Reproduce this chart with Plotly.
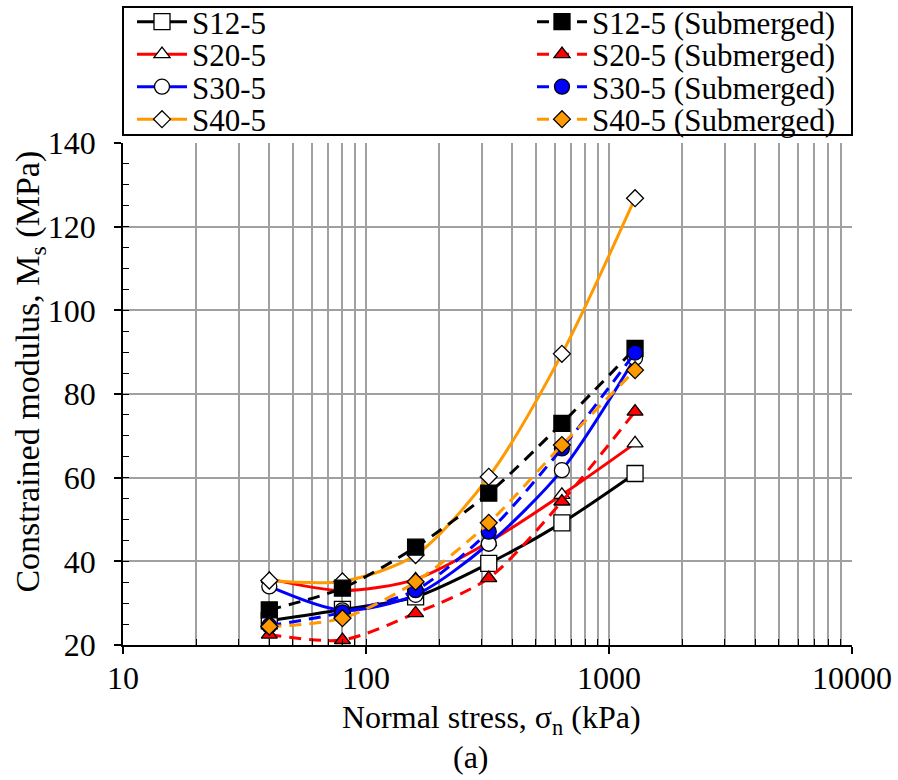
import plotly.graph_objects as go

# Normal stress levels (kPa)
stress = [40, 80, 160, 320, 640, 1280]

# Constrained modulus (MPa), dry specimens
s12 = [25.8, 28.5, 31.5, 39.5, 49.2, 61.0]
s20 = [35.8, 33.0, 35.7, 44.6, 55.9, 68.2]
s30 = [34.0, 28.3, 32.0, 44.2, 61.8, 88.6]
s40 = [35.4, 35.2, 41.5, 60.2, 89.6, 126.8]

# Constrained modulus (MPa), submerged specimens
s12_sub = [28.4, 33.6, 43.4, 56.3, 73.0, 90.9]
s20_sub = [22.5, 21.2, 27.6, 36.0, 54.3, 75.8]
s30_sub = [24.6, 27.8, 33.1, 47.1, 67.0, 89.9]
s40_sub = [24.4, 26.4, 35.1, 49.2, 67.8, 85.7]

x_major = [10, 100, 1000, 10000]
x_labels = ["10", "100", "1000", "10000"]
x_minor = [m * d for d in (10, 100, 1000) for m in range(2, 10)]
x_all = sorted(x_major + x_minor)

FONT = "Liberation Serif, Times New Roman, serif"
ORANGE = "#ff9900"
GRID = "#a0a0a0"

# plot area in pixels (used to place the legend entries)
PLOT_L, PLOT_W, PLOT_B, PLOT_H = 123, 729, 645, 502
LEG_COLS = [132, 532]               # left edge of each legend column (px)
LEG_ROWS = [22, 54.5, 87, 119.5]    # centre of each legend row (px)

series = [
    # name, values, colour, symbol, filled, dashed, (row, column)
    ("S12-5", s12, "black", "square", False, False, (0, 0)),
    ("S20-5", s20, "red", "triangle-up", False, False, (1, 0)),
    ("S30-5", s30, "blue", "circle", False, False, (2, 0)),
    ("S40-5", s40, ORANGE, "diamond", False, False, (3, 0)),
    ("S12-5 (Submerged)", s12_sub, "black", "square", True, True, (0, 1)),
    ("S20-5 (Submerged)", s20_sub, "red", "triangle-up", True, True, (1, 1)),
    ("S30-5 (Submerged)", s30_sub, "blue", "circle", True, True, (2, 1)),
    ("S40-5 (Submerged)", s40_sub, ORANGE, "diamond", True, True, (3, 1)),
]

sizes = {"square": 16, "triangle-up": 14, "circle": 15, "diamond": 13}

fig = go.Figure()
legends = {}
for i, (name, vals, color, symbol, filled, dashed, (row, col)) in enumerate(series):
    key = "legend" if i == 0 else f"legend{i + 1}"
    fig.add_trace(go.Scatter(
        x=stress, y=vals, name=name, mode="lines+markers",
        line=dict(color=color, width=3, shape="spline", smoothing=0.8,
                  dash="12px,8px" if dashed else "solid"),
        marker=dict(symbol=symbol, size=sizes[symbol],
                    color=color if filled else "white",
                    line=dict(color="black", width=1.3)),
        legend=key,
    ))
    legends[key] = dict(
        x=(LEG_COLS[col] - PLOT_L) / PLOT_W, xanchor="left",
        y=(PLOT_B - LEG_ROWS[row]) / PLOT_H, yanchor="middle",
        font=dict(family=FONT, size=31, color="black"),
        bgcolor="rgba(0,0,0,0)", borderwidth=0, itemwidth=50,
    )

# empty trace so the overlay axes (inner tick marks) get drawn
fig.add_trace(go.Scatter(x=[], y=[], xaxis="x2", yaxis="y2",
                         showlegend=False, hoverinfo="skip"))

fig.update_layout(
    width=898, height=780,
    margin=dict(l=123, r=46, t=143, b=135, autoexpand=False),
    paper_bgcolor="white", plot_bgcolor="white",
    font=dict(family=FONT, color="black", size=30),
    showlegend=True,
    **legends,
    xaxis=dict(
        type="log", range=[1, 4],
        tickvals=x_major, ticktext=x_labels,
        ticks="outside", ticklen=7, tickwidth=1.5, tickcolor="black",
        showline=True, linecolor="black", linewidth=1.5,
        showgrid=True, gridcolor=GRID, gridwidth=1.5,
        minor=dict(tickvals=x_minor, showgrid=True, gridcolor=GRID,
                   gridwidth=1.5, ticks=""),
        tickfont=dict(family=FONT, size=32),
        ticklabelstandoff=-3,
        zeroline=False, mirror=False,
    ),
    yaxis=dict(
        range=[20, 140], dtick=20, tick0=20,
        ticks="outside", ticklen=7, tickwidth=1.5, tickcolor="black",
        showline=True, linecolor="black", linewidth=1.5,
        showgrid=True, gridcolor=GRID, gridwidth=1.5,
        tickfont=dict(family=FONT, size=32),
        ticklabelstandoff=12,
        zeroline=False,
    ),
    xaxis2=dict(
        type="log", range=[1, 4], overlaying="x", anchor="y2", side="bottom",
        tickvals=x_all, ticks="inside", ticklen=6, tickwidth=1.2,
        tickcolor="black", showticklabels=False, showgrid=False,
        showline=False, zeroline=False,
    ),
    yaxis2=dict(
        range=[20, 140], overlaying="y", anchor="x2", side="left",
        dtick=5, tick0=20, ticks="inside", ticklen=6, tickwidth=1.2,
        tickcolor="black", showticklabels=False, showgrid=False,
        showline=False, zeroline=False,
    ),
    shapes=[dict(type="rect", xref="paper", yref="paper",
                 x0=0, x1=1.0, y0=1.016, y1=1.271,
                 line=dict(color="black", width=2), fillcolor="rgba(0,0,0,0)")],
    annotations=[
        dict(text="Constrained modulus, M<sub>s</sub> (MPa)", textangle=-90,
             xref="paper", yref="paper", x=-0.128, y=0.544,
             xanchor="center", yanchor="middle", showarrow=False,
             font=dict(family=FONT, size=34)),
        dict(text="Normal stress, σ<sub>n</sub> (kPa)",
             xref="paper", yref="paper", x=0.506, y=-0.148,
             xanchor="center", yanchor="middle", showarrow=False,
             font=dict(family=FONT, size=32)),
        dict(text="(a)", xref="paper", yref="paper", x=0.477, y=-0.223,
             xanchor="center", yanchor="middle", showarrow=False,
             font=dict(family=FONT, size=32)),
    ],
)

fig.write_html("out.html")
